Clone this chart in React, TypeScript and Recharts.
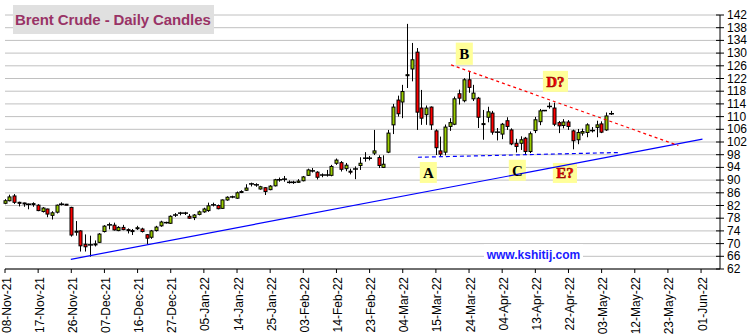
import React from 'react';
import { ComposedChart, Bar, XAxis, YAxis, CartesianGrid, ReferenceLine, ReferenceArea } from 'recharts';

// x positions are weekday numbers counted from 08-Nov-21
const tickLabels = [
  '08-Nov-21', '17-Nov-21', '26-Nov-21', '07-Dec-21', '16-Dec-21', '27-Dec-21', '05-Jan-22', '14-Jan-22',
  '25-Jan-22', '03-Feb-22', '14-Feb-22', '23-Feb-22', '04-Mar-22', '15-Mar-22', '24-Mar-22', '04-Apr-22',
  '13-Apr-22', '22-Apr-22', '03-May-22', '12-May-22', '23-May-22', '01-Jun-22',
];

const yTicks = [62, 66, 70, 74, 78, 82, 86, 90, 94, 98, 102, 106, 110, 114, 118, 122, 126, 130, 134, 138, 142];

const openPx = [
  82.7, 83.5, 85.0, 83.0, 82.8, 82.4, 82.4, 82.1, 80.1, 80.9, 78.9, 79.9, 82.3, 82.4, 81.4, 73.6, 74.0, 69.8, 69.5, 69.7,
  70.4, 73.8, 75.8, 75.8, 74.1, 75.1, 74.4, 74.1, 74.7, 74.6, 72.8, 72.0, 74.1, 75.6, 76.5, 76.4, 78.9, 79.5, 79.6, 78.6,
  78.2, 79.2, 80.0, 80.4, 82.1, 82.0, 81.1, 83.75, 84.6, 84.3, 86.2, 86.8, 88.7, 88.4, 87.2, 87.6, 87.0, 88.2, 90.0, 90.2,
  89.4, 89.3, 89.3, 89.8, 91.5, 92.8, 92.5, 91.5, 91.6, 91.5, 95.3, 95.5, 93.6, 92.8, 93.4, 94.6, 96.8, 96.9, 98.5, 97.1,
  94.0, 98.8, 107.4, 115.2, 114.6, 123.0, 125.0, 130.3, 112.7, 110.6, 113.0, 105.5, 99.2, 98.8, 106.9, 107.6, 117.2, 115.0, 121.6, 115.6,
  115.8, 107.6, 109.8, 111.1, 105.0, 104.5, 108.7, 105.8, 101.6, 101.6, 103.2, 99.0, 105.6, 108.4, 111.8, 113.1, 112.7, 108.1, 107.2, 108.3,
  105.5, 102.7, 104.8, 105.0, 105.6, 106.6, 107.7, 105.8, 110.8,
];
const highPx = [
  84.0, 85.4, 85.6, 83.2, 82.9, 82.6, 83.0, 82.4, 81.5, 81.0, 80.2, 82.3, 83.0, 82.5, 81.6, 77.1, 74.2, 72.9, 72.5, 71.0,
  73.3, 75.8, 76.6, 76.6, 75.5, 75.9, 74.8, 74.6, 75.6, 75.0, 73.0, 74.3, 75.6, 77.2, 76.9, 78.9, 79.6, 80.0, 80.0, 79.3,
  79.3, 80.4, 81.3, 82.9, 82.9, 82.3, 83.9, 84.9, 85.1, 86.4, 86.8, 88.7, 89.2, 89.0, 88.2, 87.8, 88.4, 90.4, 90.8, 91.3,
  89.9, 89.8, 90.3, 91.3, 93.6, 93.8, 92.8, 92.1, 93.2, 94.8, 96.8, 96.0, 95.4, 93.6, 94.3, 97.2, 98.8, 97.6, 105.8, 97.8,
  97.8, 105.8, 114.0, 116.6, 120.0, 139.2, 133.2, 131.6, 118.4, 113.5, 113.2, 106.0, 103.7, 107.5, 109.5, 116.3, 118.5, 122.1, 124.0, 120.0,
  116.2, 112.1, 113.1, 111.8, 106.4, 108.0, 109.8, 106.3, 103.0, 103.8, 103.6, 105.3, 109.9, 112.4, 112.0, 114.5, 114.4, 108.6, 109.2, 108.9,
  105.9, 106.1, 106.2, 107.9, 106.7, 108.7, 108.5, 111.3, 111.8,
];
const lowPx = [
  82.4, 83.3, 82.5, 81.7, 81.6, 80.8, 81.6, 80.2, 79.8, 78.3, 77.6, 79.5, 82.0, 82.1, 72.2, 72.5, 67.5, 67.5, 65.9, 69.1,
  70.2, 73.5, 74.5, 74.1, 73.9, 74.2, 73.2, 72.7, 74.3, 73.5, 69.8, 71.5, 73.8, 75.3, 76.3, 76.2, 78.4, 78.9, 79.0, 77.8,
  77.4, 78.9, 79.7, 80.0, 81.7, 80.8, 80.9, 83.5, 84.3, 84.1, 85.9, 86.6, 88.0, 87.9, 87.0, 85.3, 86.8, 88.0, 89.5, 89.5,
  88.9, 88.8, 89.1, 89.6, 91.3, 92.4, 90.2, 90.9, 91.1, 91.2, 94.8, 92.7, 92.8, 91.8, 90.3, 93.2, 95.8, 96.2, 97.9, 93.8,
  93.8, 98.5, 104.5, 110.0, 109.5, 119.0, 121.1, 105.8, 107.4, 107.4, 105.8, 97.9, 97.4, 97.8, 105.5, 107.3, 113.8, 114.5, 117.5, 114.9,
  106.4, 102.7, 108.2, 104.3, 102.5, 102.9, 105.8, 101.0, 98.7, 99.5, 97.9, 98.5, 104.8, 107.3, 111.7, 112.5, 107.0, 104.8, 106.3, 105.8,
  99.7, 101.3, 104.0, 103.5, 105.0, 103.5, 104.8, 105.5, 110.5,
];
const closePx = [
  83.5, 84.7, 83.0, 82.8, 82.6, 82.4, 82.6, 80.4, 81.2, 79.3, 79.7, 82.1, 82.4, 82.2, 72.7, 73.9, 69.3, 69.0, 69.6, 69.9,
  73.0, 75.5, 75.9, 74.3, 75.1, 74.4, 74.2, 73.9, 75.0, 73.8, 71.7, 74.0, 75.2, 76.8, 76.6, 78.6, 79.0, 79.6, 79.6, 78.0,
  79.0, 80.0, 80.9, 81.9, 82.2, 81.0, 83.75, 84.6, 84.7, 86.0, 86.4, 87.5, 88.8, 88.5, 87.9, 86.4, 88.1, 90.1, 90.1, 90.3,
  89.3, 89.3, 89.7, 91.0, 93.2, 92.9, 90.9, 91.6, 91.6, 94.3, 96.3, 93.4, 94.7, 92.6, 93.5, 95.3, 96.9, 96.9, 99.2, 94.6,
  95.0, 104.8, 113.0, 110.9, 117.9, 123.2, 127.9, 111.4, 109.5, 112.7, 107.4, 100.2, 98.2, 106.7, 108.1, 115.6, 115.8, 121.6, 119.2, 117.4,
  109.8, 107.8, 111.5, 105.1, 105.1, 107.6, 106.9, 101.4, 100.6, 102.7, 99.0, 104.6, 109.0, 111.8, 111.9, 113.2, 107.6, 107.1, 108.3, 106.9,
  102.4, 105.0, 105.3, 107.4, 105.6, 107.4, 105.1, 110.2, 110.9,
];

// hand-drawn pattern lines on the chart
const supportLine = [{ x: 13.9, y: 65.05 }, { x: 147.3, y: 102.9 }];
const baseLine = [{ x: 87.2, y: 97.2 }, { x: 129.9, y: 98.7 }];
const topLine = [{ x: 94.2, y: 126.3 }, { x: 142.2, y: 100.9 }];

const waveLabels = [
  { text: 'A', x1: 87.6, x2: 91.2, y1: 89.1, y2: 95.7, color: '#000000' },
  { text: 'B', x1: 95.2, x2: 98.8, y1: 126.3, y2: 133.3, color: '#000000' },
  { text: 'C', x1: 106.4, x2: 110.0, y1: 89.8, y2: 96.4, color: '#000000' },
  { text: 'D?', x1: 113.6, x2: 118.9, y1: 117.8, y2: 124.4, color: '#FF0000' },
  { text: 'E?', x1: 115.7, x2: 120.8, y1: 89.1, y2: 95.4, color: '#FF0000' },
];

const data = openPx.map((o, i) => ({ i, open: o, high: highPx[i], low: lowPx[i], close: closePx[i] }));
const xTicks = tickLabels.map((_, k) => k * 7);

const font = '"Liberation Sans", Arial, sans-serif';

function Candle(props: any) {
  const { x, y, width, height, payload } = props;
  const { open, close, high, low } = payload;
  const cx = Math.round(x + width / 2) + 0.5;
  const k = high === low ? 0 : height / (high - low);
  const yo = y + (high - open) * k;
  const yc = y + (high - close) * k;
  const doji = Math.abs(open - close) < 0.15;
  return (
    <g>
      <line x1={cx} x2={cx} y1={y} y2={y + height} stroke="#000" strokeWidth={1} />
      {doji ? (
        <line x1={cx - 2.5} x2={cx + 2.5} y1={yc} y2={yc} stroke="#000" strokeWidth={1.5} />
      ) : (
        <rect
          x={cx - 1.5}
          y={Math.min(yo, yc)}
          width={3}
          height={Math.max(Math.abs(yo - yc), 1)}
          fill={close > open ? '#99CC00' : '#FF0000'}
          stroke="#000"
          strokeWidth={1}
        />
      )}
    </g>
  );
}

function XTick(props: any) {
  const { x, y, payload } = props;
  const label = tickLabels[Math.round(payload.value / 7)];
  const tx = x + 1.5;
  return (
    <g>
      <line x1={x} x2={x} y1={y} y2={y + 4} stroke="#000" />
      <text
        x={tx}
        y={y + 8}
        transform={`rotate(-90, ${tx}, ${y + 8})`}
        textAnchor="end"
        dominantBaseline="central"
        fontSize={12}
        fontFamily={font}
        fill="#000"
      >
        {label}
      </text>
    </g>
  );
}

function YTick(props: any) {
  const { x, y, payload } = props;
  return (
    <g>
      <line x1={x - 4} x2={x + 4} y1={y} y2={y} stroke="#000" />
      <text x={x + 7} y={y} dominantBaseline="central" fontSize={12} fontFamily={font} fill="#000">
        {payload.value}
      </text>
    </g>
  );
}

export default function App() {
  return (
    <div style={{ position: 'relative', width: 752, height: 336, background: '#fff' }}>
      <style>{'body{margin:0}'}</style>
      <ComposedChart width={752} height={336} data={data} margin={{ top: 15, right: 0, bottom: 0, left: 5 }}>
        <CartesianGrid vertical={false} stroke="#C0C0C0" />
        <XAxis
          dataKey="i"
          type="number"
          domain={[0, 151]}
          ticks={xTicks}
          interval={0}
          height={67}
          tickSize={0}
          tickMargin={0}
          tickLine={false}
          axisLine={{ stroke: '#000' }}
          tick={<XTick />}
        />
        <YAxis
          orientation="right"
          domain={[62, 142]}
          ticks={yTicks}
          interval={0}
          width={32}
          tickSize={0}
          tickMargin={0}
          tickLine={false}
          axisLine={{ stroke: '#000' }}
          tick={<YTick />}
        />
        <ReferenceLine segment={supportLine} stroke="#0000FF" strokeWidth={1.2} />
        <ReferenceLine segment={baseLine} stroke="#0000FF" strokeWidth={1.2} strokeDasharray="4 3" />
        <ReferenceLine segment={topLine} stroke="#FF0000" strokeWidth={1.2} strokeDasharray="3 3" />
        {waveLabels.map((l) => (
          <ReferenceArea
            key={l.text}
            x1={l.x1}
            x2={l.x2}
            y1={l.y1}
            y2={l.y2}
            fill="#FFFF99"
            fillOpacity={1}
            stroke="none"
            label={{
              value: l.text,
              position: 'center',
              fill: l.color,
              fontSize: 15,
              fontWeight: 'bold',
              fontFamily: '"Liberation Serif", "Times New Roman", serif',
              stroke: l.color === '#000000' ? 'none' : '#800000',
              strokeWidth: 0.5,
            }}
          />
        ))}
        <Bar dataKey={(d: any) => [d.low, d.high]} shape={<Candle />} barSize={4} isAnimationActive={false} />
      </ComposedChart>
      <div
        style={{
          position: 'absolute', left: 13, top: 5, width: 201, height: 29, background: '#E0E0E0',
          color: '#993366', font: `bold 15px ${font}`, lineHeight: '29px', paddingLeft: 2,
          boxSizing: 'border-box', whiteSpace: 'nowrap', letterSpacing: -0.1,
        }}
      >
        Brent Crude - Daily Candles
      </div>
      <div
        style={{
          position: 'absolute', left: 484, top: 244, width: 99, height: 22, background: '#fff',
          color: '#1A1AFF', font: `bold 12px ${font}`, lineHeight: '22px', textAlign: 'center',
        }}
      >
        www.kshitij.com
      </div>
    </div>
  );
}
